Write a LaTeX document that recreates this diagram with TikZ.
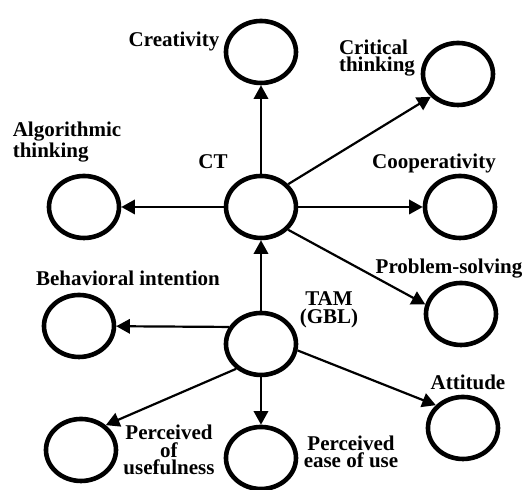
\documentclass[tikz,border=0pt]{standalone}
\usepackage{fontspec}
\setmainfont{Liberation Serif}
\usepackage{tikz}
\usetikzlibrary{shapes.geometric, arrows.meta}
\tikzstyle{construct} = [ellipse, minimum width=35pt, minimum height=31pt, inner sep=0pt, draw=black, line width=2.3pt]
\tikzstyle{tag} = [font=\bfseries\fontsize{10.5}{8.8}\selectfont, inner sep=0pt, text centered]
\tikzstyle{arrow} = [line width=1.1pt,-{Triangle[length=6.8pt,width=7.2pt]}]

\begin{document}
\begin{tikzpicture}
\useasboundingbox (-130.5pt,-141.5pt) rectangle (133pt,103.5pt);

\node (CT) [construct] at (0,0) {};

\node (crea) [construct, node distance=77.5pt, above of=CT] {};

\node (crit) [construct, node distance=98.5pt, right of=CT, yshift=66.5pt] {};

\node (algo) [construct, node distance=88.5pt, left of=CT] {};

\node (coop) [construct, node distance=99.5pt, right of=CT] {};

\node (ps) [construct, node distance=100pt, right of=CT, yshift=-53.5pt] {};

\node (TAM) [construct, node distance=68.5pt, below of=CT] {};

\node (beh) [construct, node distance=91pt, left of=TAM, yshift=9pt] {};

\node (pu) [construct, node distance=90pt, left of=TAM, yshift=-53pt] {};

\node (peou) [construct, node distance=57pt, below of=TAM] {};

\node (att) [construct, node distance=101pt, right of=TAM, yshift=-42pt] {};

% labels
\node (creatag) [tag, node distance=43.5pt, left of=crea, yshift=5.5pt] {Creativity};
\node (crittag) [tag, node distance=40.5pt, left of=crit, yshift=8pt, align=left] {Critical\\thinking};
\node (algotag) [tag, node distance=32.5pt, above of=algo, xshift=-8.5pt, align=left] {Algorithmic\\thinking};
\node (CTtag) [tag, node distance=22.5pt, above of=CT, xshift=-24pt] {CT};
\node (cooptag) [tag, node distance=22pt, above of=coop, xshift=-13pt] {Cooperativity};
\node (pstag) [tag, node distance=22.5pt, above of=ps, xshift=-6pt] {Problem-solving};
\node (behtag) [tag, node distance=24pt, above of=beh, xshift=24.5pt] {Behavioral intention};
\node (TAMtag) [tag, node distance=34pt, right of=TAM, yshift=17pt, align=center] {TAM\\(GBL)};
\node (atttag) [tag, node distance=23pt, above of=att, xshift=2.5pt] {Attitude};
\node (putag) [tag, node distance=44pt, right of=pu, align=center] {Perceived\\of\\usefulness};
\node (peoutag) [tag, node distance=45pt, right of=peou, yshift=3pt, align=center] {Perceived\\ease of use};

\draw [arrow] (CT) -- (crea);
\draw [arrow] (CT.40) -- (crit.220);
\draw [arrow] (CT) -- (algo);
\draw [arrow] (CT) -- (coop);
\draw [arrow] (CT.-40) -- (ps.165);
\draw [arrow] (TAM) -- (CT);
\draw [arrow] (TAM.152) -- (beh);
\draw [arrow] (TAM.225) -- (pu.45);
\draw [arrow] (TAM) -- (peou);
\draw [arrow] (TAM.-10) -- (att.140);
\end{tikzpicture}
\end{document}
